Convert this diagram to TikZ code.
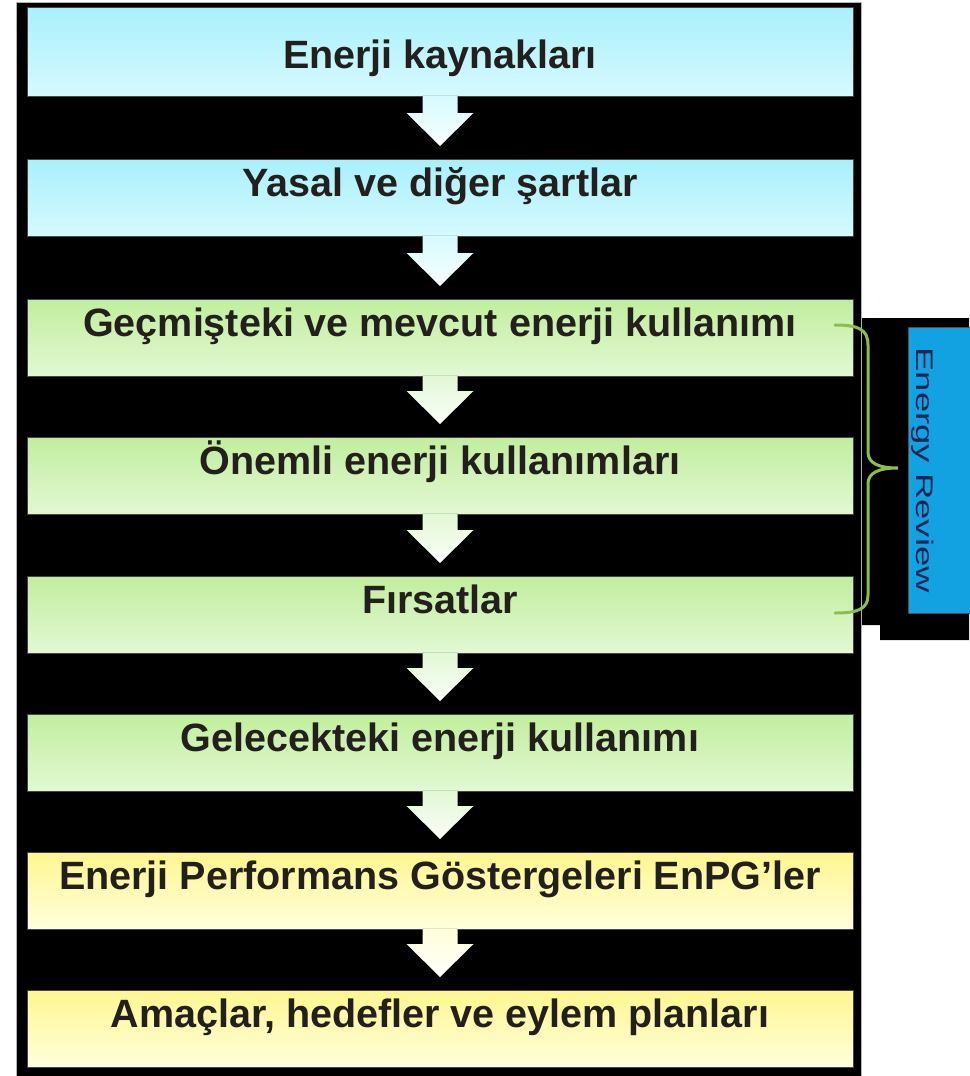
\documentclass[tikz,border=0pt]{standalone}
\usepackage{fontspec}
\setmainfont{Liberation Sans}
\usetikzlibrary{calc}
\definecolor{txtdark}{HTML}{231F1C}
\definecolor{blueT}{HTML}{A8F0FC}
\definecolor{blueB}{HTML}{D6FAFE}
\definecolor{greenT}{HTML}{C2EE9E}
\definecolor{greenB}{HTML}{E2F8D4}
\definecolor{yellowT}{HTML}{FFF690}
\definecolor{yellowB}{HTML}{FFFFDC}
\definecolor{reviewblue}{HTML}{12A2E2}
\definecolor{reviewtxt}{HTML}{1C2650}
\definecolor{bracegreen}{HTML}{8CBE4E}
\tikzset{
  stagebox/.style={draw=gray!55!black, line width=0.8, anchor=north,
    minimum width=826, inner xsep=0, inner ysep=0,
    text height=37, text depth=40, text=txtdark,
    font=\bfseries\fontsize{39.5}{39.5}\selectfont},
  bluebox/.style={stagebox, top color=blueT, bottom color=blueB},
  greenbox/.style={stagebox, top color=greenT, bottom color=greenB},
  yellowbox/.style={stagebox, top color=yellowT, bottom color=yellowB},
}
\begin{document}
\begin{tikzpicture}[x=1pt,y=-1pt]
\useasboundingbox (0,0) rectangle (969,1076);
% side panel holding the review label
\fill[black] (825,318) -- (969,318) -- (969,640) -- (880,640) -- (880,625) -- (825,625) -- cycle;
% main dark panel
\filldraw[fill=black, draw=gray!60, line width=0.8] (16,2) rectangle (861,1080);
% process stages
\node[bluebox, text height=61, text depth=28] (b1) at (440,7) {Enerji kaynakları};
\node[bluebox]   (b2) at (440,159) {Yasal ve diğer şartlar};
\node[greenbox]  (b3) at (440,299) {Geçmişteki ve mevcut enerji kullanımı};
\node[greenbox]  (b4) at (440,437) {Önemli enerji kullanımları};
\node[greenbox]  (b5) at (440,576) {Fırsatlar};
\node[greenbox]  (b6) at (440,714) {Gelecekteki enerji kullanımı};
\node[yellowbox] (b7) at (440,852) {Enerji Performans Göstergeleri EnPG’ler};
\node[yellowbox] (b8) at (440,990) {Amaçlar, hedefler ve eylem planları};
% block arrows between stages
\foreach \a/\b/\c in {b1/b2/blueB, b2/b3/blueB, b3/b4/greenB, b4/b5/greenB,
                      b5/b6/greenB, b6/b7/greenB, b7/b8/yellowB}{
  \fill[top color=\c, bottom color=white!85!\c]
    ($(\a.south)+(-17.5,-1)$) -- ($(\a.south)+(17.5,-1)$)
    -- ($(\b.north)+(17.5,-46)$) -- ($(\b.north)+(33.5,-46)$)
    -- ($(\b.north)+(0,-13)$)
    -- ($(\b.north)+(-33.5,-46)$) -- ($(\b.north)+(-17.5,-46)$) -- cycle;
}
% review label
\node[draw=black!70, line width=0.6, fill=reviewblue, anchor=north west,
      minimum width=64, minimum height=286, inner sep=0] (rv) at (908,327) {};
\node[rotate=-90, text=reviewtxt, inner sep=0, font=\fontsize{24}{24}\selectfont] (rvt)
      at ($(rv.center)+(-18,0)$) {\scalebox{1.52}[1]{Energy Review}};
% brace spanning the review stages
\draw[bracegreen, line width=3, line cap=round]
  (835,325) .. controls (858,325) and (868,329) .. (868,345)
  -- (868,452) .. controls (868,463) and (878,468) .. (898,468)
  .. controls (878,468) and (868,473) .. (868,484)
  -- (868,595) .. controls (868,609) and (858,613) .. (835,613);
\end{tikzpicture}
\end{document}
